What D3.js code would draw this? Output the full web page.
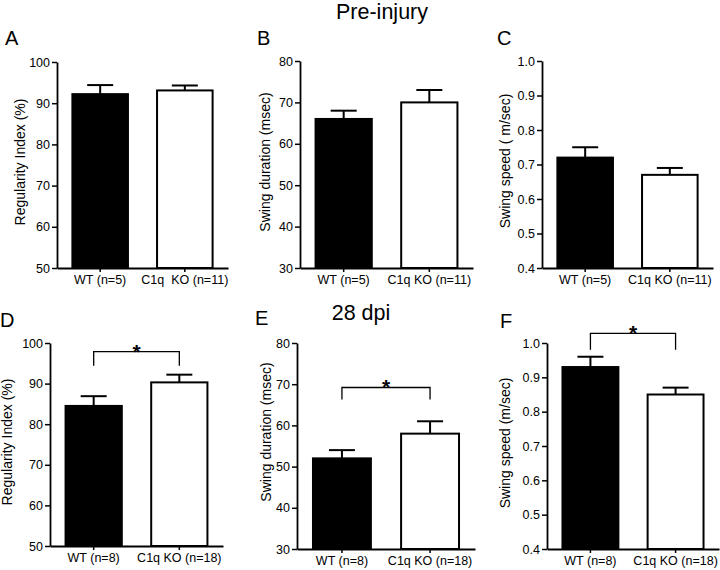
<!DOCTYPE html>
<html><head><meta charset="utf-8">
<script src="https://cdn.jsdelivr.net/npm/d3@7"></script>
<style>
body{margin:0;background:#fff;}
text{font-family:"Liberation Sans",Arial,sans-serif;fill:#000;}
</style></head>
<body><svg id="c" width="720" height="570"></svg>
<script>
// ---- data ----
const panelLetters = ["A","B","C","D","E","F"];
const yTitles = ["Regularity Index (%)","Swing duration (msec)","Swing speed ( m/sec)",
                 "Regularity Index (%)","Swing duration (msec)","Swing speed (m/sec)"];
const xLabelsTop = [["WT (n=5)","C1q  KO (n=11)"],["WT (n=5)","C1q KO (n=11)"],["WT (n=5)","C1q KO (n=11)"]];
const xLabelsBottom = [["WT (n=8)","C1q KO (n=18)"],["WT (n=8)","C1q KO (n=18)"],["WT (n=8)","C1q KO (n=18)"]];
const yDomains = [[50,100],[30,80],[0.4,1.0],[50,100],[30,80],[0.4,1.0]];
const yTicks = [[50,60,70,80,90,100],[30,40,50,60,70,80],[0.4,0.5,0.6,0.7,0.8,0.9,1.0],
                [50,60,70,80,90,100],[30,40,50,60,70,80],[0.4,0.5,0.6,0.7,0.8,0.9,1.0]];
const wtMeans = [92.2, 66, 0.72, 84.5, 52, 0.93];
const wtErrTop = [94.4, 68, 0.75, 86.9, 54, 0.96];
const koMeans = [93.1, 70, 0.67, 90.3, 58, 0.85];
const koErrTop = [94.3, 73, 0.69, 92.2, 61, 0.87];
// significance brackets: panel index, top value, leg bottom value
const sigPanels = [3, 4, 5];
const sigTop = [97.9, 69.2, 1.028];
const sigLegBottom = [94.4, 66.3, 0.98];
const titles = ["Pre-injury","28 dpi"];

// ---- layout ----
const layout = [
  {x0:57,  x1:228, yTop:62,  yBot:268, lx:5,   ly:45,  tx:20,  ty:162},
  {x0:300, x1:473, yTop:61,  yBot:268, lx:257, ly:45,  tx:265, ty:162},
  {x0:542, x1:713, yTop:61,  yBot:268, lx:497, ly:45,  tx:505, ty:161},
  {x0:50,  x1:223, yTop:343, yBot:546, lx:0,   ly:327, tx:7,   ty:442},
  {x0:297, x1:475, yTop:343, yBot:549, lx:255, ly:325, tx:266, ty:432},
  {x0:547, x1:719, yTop:343, yBot:549, lx:500, ly:328, tx:505, ty:443}
];
const titlePos = [{x:382, y:19},{x:361, y:320}];

const svg = d3.select("#c");

titles.forEach((t,i)=>{
  svg.append("text").attr("x",titlePos[i].x).attr("y",titlePos[i].y)
    .attr("text-anchor","middle").attr("font-size",21.5).text(t);
});

layout.forEach((L,i)=>{
  const g = svg.append("g");
  const cats = ["WT","KO"];
  const labels = i<3 ? xLabelsTop[i] : xLabelsBottom[i-3];
  const x = d3.scaleBand().domain(cats).range([L.x0, L.x1]).paddingInner(0.32).paddingOuter(0.17);
  const y = d3.scaleLinear().domain(yDomains[i]).range([L.yBot, L.yTop]);
  const isDec = yDomains[i][1] <= 1;
  const vals = [wtMeans[i], koMeans[i]];
  const errs = [wtErrTop[i], koErrTop[i]];

  cats.forEach((c,j)=>{
    const cx = x(c) + x.bandwidth()/2;
    g.append("line").attr("x1",cx).attr("x2",cx).attr("y1",y(vals[j])).attr("y2",y(errs[j]))
      .attr("stroke","#000").attr("stroke-width",2);
    g.append("line").attr("x1",cx-13).attr("x2",cx+13).attr("y1",y(errs[j])).attr("y2",y(errs[j]))
      .attr("stroke","#000").attr("stroke-width",2);
  });
  g.selectAll("rect.bar").data(cats).enter().append("rect")
    .attr("x",c=>x(c)+1).attr("width",x.bandwidth()-2)
    .attr("y",(c,j)=>y(vals[j])).attr("height",(c,j)=>y.range()[0]-y(vals[j]))
    .attr("fill",(c,j)=>j===0?"#000":"#fff").attr("stroke","#000").attr("stroke-width",2);

  const ya = g.append("g").attr("transform",`translate(${L.x0},0)`)
    .call(d3.axisLeft(y).tickValues(yTicks[i]).tickSize(5).tickSizeOuter(0).tickPadding(2)
      .tickFormat(isDec ? d3.format(".1f") : d3.format("d")));
  ya.selectAll("text").attr("font-size",12.5).attr("font-family",null);
  ya.select(".domain").attr("stroke-width",1.8);
  ya.selectAll(".tick line").attr("stroke-width",1.5);

  const xa = g.append("g").attr("transform",`translate(0,${L.yBot})`)
    .call(d3.axisBottom(x).tickSize(4).tickSizeOuter(0).tickPadding(3).tickFormat((c,j)=>labels[j]));
  xa.selectAll("text").attr("font-size",12.5).attr("font-family",null).style("white-space","pre");
  xa.select(".domain").attr("stroke-width",1.8);
  xa.selectAll(".tick line").attr("stroke-width",1.5);

  svg.append("text").attr("x",L.lx).attr("y",L.ly).attr("font-size",20).text(panelLetters[i]);
  svg.append("text").attr("transform",`translate(${L.tx},${L.ty}) rotate(-90)`)
    .attr("text-anchor","middle").attr("dy","0.35em").attr("font-size",14).text(yTitles[i]);

  const k = sigPanels.indexOf(i);
  if (k >= 0) {
    const xa1 = x("WT")+x.bandwidth()/2, xa2 = x("KO")+x.bandwidth()/2;
    const yt = y(sigTop[k]), yb = y(sigLegBottom[k]);
    g.append("path").attr("d",`M${xa1},${yb}V${yt}H${xa2}V${yb}`)
      .attr("fill","none").attr("stroke","#000").attr("stroke-width",1.3);
    g.append("text").attr("x",(xa1+xa2)/2).attr("y",yt+7).attr("text-anchor","middle")
      .attr("font-size",21).attr("font-weight","bold").text("*");
  }
});
</script></body></html>
